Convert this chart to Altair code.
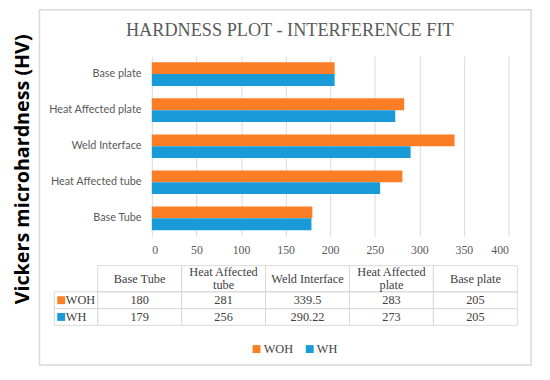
import altair as alt
import pandas as pd

categories = ["Base Tube", "Heat Affected tube", "Weld Interface", "Heat Affected plate", "Base plate"]
series = ["WOH", "WH"]
woh_values = [180, 281, 339.5, 283, 205]
wh_values = [179, 256, 290.22, 273, 205]
x_ticks = [0, 50, 100, 150, 200, 250, 300, 350, 400]
colors = ["#FB7D25", "#199BD7"]

title_text = "HARDNESS PLOT - INTERFERENCE FIT"
y_title = "Vickers microhardness (HV)"

rows = []
for s, vals in zip(series, [woh_values, wh_values]):
    for c, v in zip(categories, vals):
        rows.append({
            "category": c,
            "series": s,
            "value": v,
            "label": str(v),
            "header": c.replace("Heat Affected ", "Heat Affected\n"),
        })
df = pd.DataFrame(rows)
hdr = df[df.series == series[0]]
hdr_single = hdr[~hdr.header.str.contains("\n")]
hdr_multi = hdr[hdr.header.str.contains("\n")]
ser_df = pd.DataFrame({"series": series})
one = pd.DataFrame({"k": [0]})

GRID = "#D9D9D9"
TXT = "#595959"
TBL = "#404040"
SERIF = "Liberation Serif"
LH = 13.4

color_scale = alt.Scale(domain=series, range=colors)

# outer border
border = alt.Chart(one).mark_rect(filled=False, stroke=GRID, strokeWidth=1.5).encode(
    x=alt.value(-114), x2=alt.value(385), y=alt.value(-47), y2=alt.value(313.5)
)

title = alt.Chart(one).mark_text(
    text=title_text, font=SERIF, fontSize=18.5, color=TXT, align="center", baseline="alphabetic"
).encode(x=alt.value(140), y=alt.value(-20.7))

ytitle = alt.Chart(one).mark_text(
    text=y_title, font="Open Sans", fontSize=20, fontWeight="bold", color="black",
    align="center", baseline="middle", angle=270
).encode(x=alt.value(-131), y=alt.value(115))

bars = alt.Chart(df).mark_bar().encode(
    x=alt.X("value:Q", scale=alt.Scale(domain=[0, 400], nice=False),
            axis=alt.Axis(values=x_ticks, grid=True, gridColor=GRID, gridWidth=1, domain=False,
                          ticks=False, labelFont=SERIF, labelFontSize=12, labelColor=TXT,
                          labelPadding=8, title=None)),
    y=alt.Y("category:N", scale=alt.Scale(domain=list(reversed(categories)),
                                          paddingInner=0.344, paddingOuter=0.172),
            axis=alt.Axis(title=None, domain=False, ticks=False, labelFont="Lato",
                          labelFontSize=11, labelColor=TXT, labelPadding=11)),
    yOffset=alt.YOffset("series:N", scale=alt.Scale(domain=series, paddingInner=0, paddingOuter=0)),
    color=alt.Color("series:N", scale=color_scale,
                    legend=alt.Legend(title=None, orient="none", legendX=100, legendY=291,
                                      direction="horizontal", symbolType="square", symbolSize=64,
                                      symbolStrokeWidth=0, labelFont=SERIF, labelFontSize=12.5,
                                      labelColor=TBL, columnPadding=10, labelOffset=1, padding=0)),
)

col_x = alt.X("category:N", scale=alt.Scale(domain=categories, range=[-55, 371],
                                            paddingInner=0, paddingOuter=0), axis=None)
row_y = alt.Y("series:N", scale=alt.Scale(domain=series, range=[239.3, 273.3],
                                          paddingInner=0, paddingOuter=0), axis=None)

header_cells = alt.Chart(hdr).mark_rect(filled=False, stroke=GRID, strokeWidth=1).encode(
    x=col_x, y=alt.value(212.7), y2=alt.value(239.3)
)
value_cells = alt.Chart(df).mark_rect(filled=False, stroke=GRID, strokeWidth=1).encode(
    x=col_x, y=row_y
)
label_cells = alt.Chart(ser_df).mark_rect(filled=False, stroke=GRID, strokeWidth=1).encode(
    x=alt.value(-99), x2=alt.value(-55), y=row_y
)
header_text1 = alt.Chart(hdr_single).mark_text(
    font=SERIF, fontSize=12.5, color=TBL, align="center", baseline="middle"
).encode(x=col_x, y=alt.value(226), text="header:N")
header_text2 = alt.Chart(hdr_multi).mark_text(
    font=SERIF, fontSize=12.5, color=TBL, align="center", baseline="middle",
    lineBreak="\n", lineHeight=LH
).encode(x=col_x, y=alt.value(226 - LH / 2), text="header:N")
value_text = alt.Chart(df).mark_text(
    font=SERIF, fontSize=12.5, color=TBL, align="center", baseline="middle"
).encode(x=col_x, y=row_y, text="label:N")
label_squares = alt.Chart(ser_df).mark_square(size=64, opacity=1).encode(
    x=alt.value(-92), y=row_y, color=alt.Color("series:N", scale=color_scale)
)
label_text = alt.Chart(ser_df).mark_text(
    font=SERIF, fontSize=12.5, color=TBL, align="left", baseline="middle"
).encode(x=alt.value(-87.3), y=row_y, text="series:N")

chart = alt.layer(
    border, title, ytitle, bars,
    header_cells, value_cells, label_cells,
    header_text1, header_text2, value_text, label_squares, label_text,
).resolve_scale(x="independent", y="independent").properties(
    width=362, height=183,
    autosize=alt.AutoSizeParams(type="none"),
    padding={"left": 146, "top": 46, "right": 34, "bottom": 143},
    background="white",
).configure_view(stroke=None)

chart.save("out.html", embed_options={"renderer": "svg", "actions": False})
